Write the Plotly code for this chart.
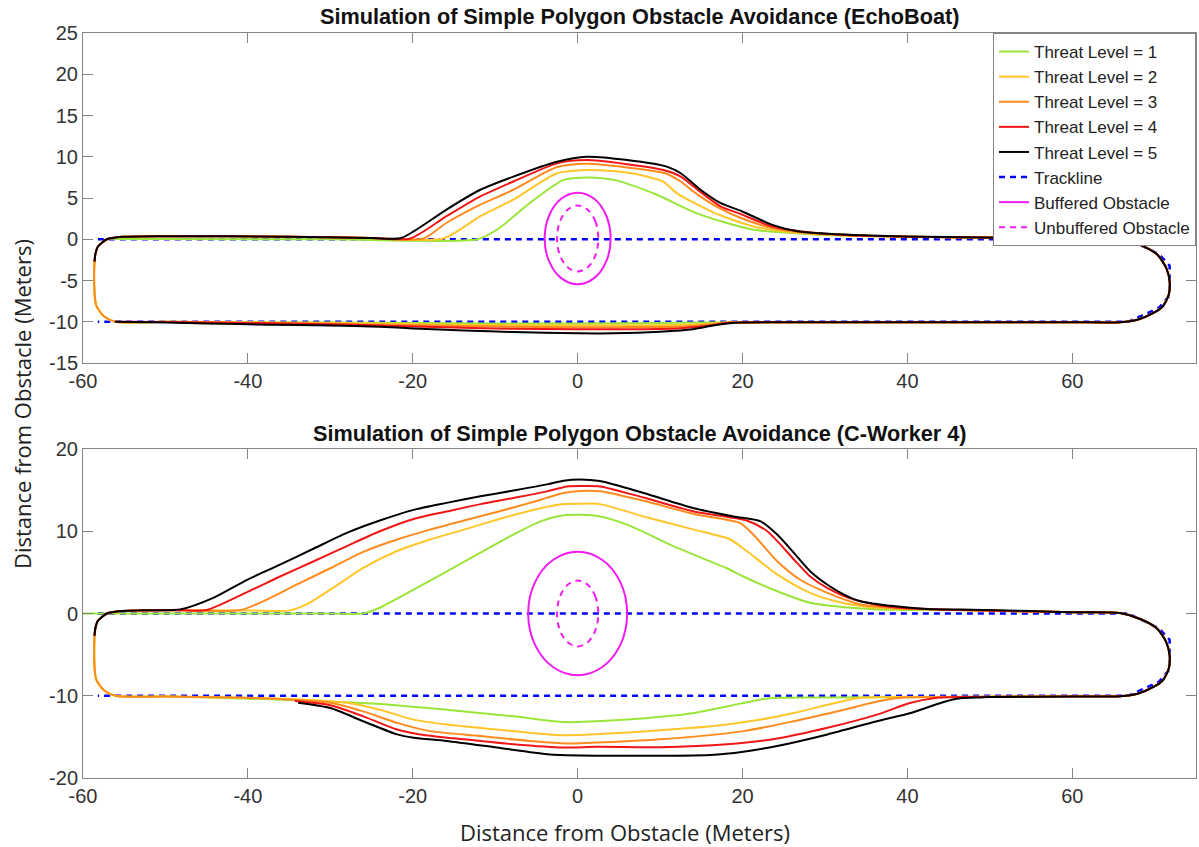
import plotly.graph_objects as go

# ---------------- labels / styles ----------------
LEVEL_NAMES = ["Threat Level = 1", "Threat Level = 2", "Threat Level = 3",
               "Threat Level = 4", "Threat Level = 5"]
LEVEL_COLORS = ["#9be43a", "#ffc62a", "#ff8b1e", "#f01616", "#000000"]
TITLE_TOP = "Simulation of Simple Polygon Obstacle Avoidance (EchoBoat)"
TITLE_BOTTOM = "Simulation of Simple Polygon Obstacle Avoidance (C-Worker 4)"
AXIS_LABEL = "Distance from Obstacle (Meters)"

X_TICKS = [-60, -40, -20, 0, 20, 40, 60]
Y_TICKS_TOP = [-15, -10, -5, 0, 5, 10, 15, 20, 25]
Y_TICKS_BOTTOM = [-20, -10, 0, 10, 20]

# ---------------- trackline ----------------
TRACK_X = [-58.2, 66.8, 70.5, 71.8, 71.8, 70.5, 66.8, -58.2]
TRACK_Y = [0, 0, -1.8, -3.2, -6.8, -8.3, -10, -10]

# ---------------- obstacles (vertices) ----------------
TOP_BUF_X = [4.0, 3.46, 2.0, 0.0, -2.0, -3.46, -4.0, -3.46, -2.0, 0.0, 2.0, 3.46, 4.0]
TOP_BUF_Y = [0.1, 2.88, 4.91, 5.65, 4.91, 2.88, 0.1, -2.68, -4.71, -5.45, -4.71, -2.68, 0.1]
TOP_UNBUF_X = [2.5, 2.17, 1.25, 0.0, -1.25, -2.17, -2.5, -2.17, -1.25, 0.0, 1.25, 2.17, 2.5]
TOP_UNBUF_Y = [0.1, 2.1, 3.56, 4.1, 3.56, 2.1, 0.1, -1.9, -3.36, -3.9, -3.36, -1.9, 0.1]
BOT_BUF_X = [6.0, 5.2, 3.0, 0.0, -3.0, -5.2, -6.0, -5.2, -3.0, 0.0, 3.0, 5.2, 6.0]
BOT_BUF_Y = [0.0, 3.75, 6.5, 7.5, 6.5, 3.75, 0.0, -3.75, -6.5, -7.5, -6.5, -3.75, 0.0]
BOT_UNBUF_X = [2.5, 2.17, 1.25, 0.0, -1.25, -2.17, -2.5, -2.17, -1.25, 0.0, 1.25, 2.17, 2.5]
BOT_UNBUF_Y = [0.0, 2.0, 3.46, 4.0, 3.46, 2.0, 0.0, -2.0, -3.46, -4.0, -3.46, -2.0, 0.0]

# ---------------- shared path pieces ----------------
START_X = [-58.6, -58.5, -58.2, -57.1, -55.2]
START_Y = [-2.7, -1.8, -0.9, 0.0, 0.3]
START_Y_GREEN = [-2.7, -1.8, -0.9, 0.0, 0.02]
BOT_GREEN_START_X = [-60.0, -55.0]
BOT_GREEN_START_Y = [0.0, 0.0]
RIGHT_TURN_X = [65.8, 68.3, 70.3, 71.4, 71.8, 71.7, 71.0, 69.9, 67.9, 65.8]
RIGHT_TURN_Y = [0.05, -0.7, -1.85, -3.5, -5.1, -6.7, -8.1, -8.9, -9.75, -10.05]
LEFT_END_X = [-56.1, -57.5, -58.4, -58.6, -58.6]
LEFT_END_Y = [-10.0, -9.3, -8.0, -6.5, -2.7]

# ---------------- EchoBoat (top) ----------------
TOP_UPPER_X = [
    [-50, -30, -12.2, -9.8, -5.8, -1.7, 1.1, 4.4, 9.6, 14.3, 18.0, 21.3, 25.9, 32, 40, 50, 60],
    [-50, -35, -25, -16.3, -11.8, -7.8, -2.5, 1.1, 5, 8.4, 10.4, 12.0, 16.6, 21.3, 25.9, 32, 40, 50, 60],
    [-50, -35, -25, -18.7, -15.9, -11.8, -7.8, -2.5, 1.1, 6, 10.6, 12.5, 14.3, 17.3, 19.5, 23.6, 28, 33, 40, 50, 60],
    [-50, -35, -25, -20.3, -15.9, -11.8, -7.8, -2.5, 1.1, 6, 10.4, 12.5, 14.8, 17.3, 19.4, 23.6, 28, 33, 40, 50, 60],
    [-50, -35, -25, -21.5, -19.9, -15.9, -11.8, -7.8, -2.5, 1.1, 6, 10.8, 12.5, 14.9, 17.3, 19.9, 23.6, 26.8, 32.9, 39.8, 49.1, 60],
]
TOP_UPPER_Y = [
    [0.02, 0.0, 0.0, 1.15, 4.4, 7.2, 7.5, 7.2, 5.4, 3.2, 2.0, 1.15, 0.75, 0.45, 0.3, 0.2, 0.1],
    [0.38, 0.32, 0.14, 0.1, 2.8, 4.8, 8.0, 8.4, 8.2, 7.6, 7.0, 5.6, 3.2, 1.55, 0.85, 0.5, 0.32, 0.2, 0.1],
    [0.38, 0.32, 0.14, 0.1, 2.0, 4.2, 6.0, 8.75, 9.15, 8.7, 8.0, 7.0, 5.6, 3.7, 2.7, 1.35, 0.75, 0.5, 0.32, 0.2, 0.1],
    [0.38, 0.32, 0.14, 0.1, 2.8, 5.2, 7.0, 9.2, 9.6, 9.1, 8.4, 7.6, 5.8, 4.0, 3.2, 1.55, 0.85, 0.5, 0.32, 0.2, 0.1],
    [0.38, 0.32, 0.15, 0.12, 0.95, 3.6, 6.0, 7.6, 9.4, 10.0, 9.6, 8.8, 8.0, 6.0, 4.4, 3.4, 1.75, 0.95, 0.55, 0.35, 0.2, 0.1],
]
TOP_LOWER_X = [
    [60, 40, 25, 18.5, 15, 10, 0, -10, -20, -30, -40, -50],
    [60, 40, 25, 18.5, 16, 12, 5, 0, -8, -15, -22, -30, -40, -50],
    [60, 40, 25, 18.5, 16, 12, 5, 0, -8, -15, -22, -30, -40, -50],
    [60, 40, 25, 18.5, 16, 12, 5, 0, -8, -15, -22, -30, -40, -50, -56.1],
    [60, 40, 27, 20, 17, 14, 10, 4.4, 0, -7.8, -13.8, -19.9, -24, -30, -37.5, -45, -50, -56.1],
]
TOP_LOWER_Y = [
    [-10.05, -10.05, -10.05, -10.07, -10.1, -10.15, -10.2, -10.2, -10.15, -10.1, -10.05, -10.0],
    [-10.05, -10.05, -10.05, -10.1, -10.25, -10.38, -10.42, -10.42, -10.4, -10.35, -10.25, -10.15, -10.08, -10.0],
    [-10.05, -10.05, -10.05, -10.1, -10.35, -10.6, -10.65, -10.65, -10.6, -10.5, -10.4, -10.25, -10.12, -10.0],
    [-10.05, -10.05, -10.05, -10.1, -10.45, -10.8, -10.9, -10.9, -10.85, -10.7, -10.5, -10.3, -10.15, -10.02, -10.0],
    [-10.05, -10.05, -10.05, -10.1, -10.35, -10.9, -11.2, -11.4, -11.4, -11.25, -11.05, -10.8, -10.6, -10.45, -10.35, -10.2, -10.1, -10.0],
]
TOP_COMPLETE = [True, True, True, False, False]

# ---------------- C-Worker 4 (bottom) ----------------
BOT_UPPER_X = [
    [-50, -40, -30, -26.0, -24, -19.9, -15.9, -11.8, -7.8, -4.5, -1.7, 0.3, 2.7, 6.0, 12.1, 18.1, 20.1, 24.2, 28.2, 32.3, 38.3, 46.4, 55, 60],
    [-52, -48, -40, -34.9, -32.9, -30, -26, -21.9, -17.9, -13.8, -9.8, -5.8, -1.7, 0.3, 2.7, 8.0, 14.1, 18.5, 20.5, 24.2, 28.2, 32.3, 36.3, 46.4, 55, 60],
    [-52, -48, -41, -38.1, -34.1, -30, -26, -21.9, -17.9, -13.8, -9.8, -5.8, -1.7, 0.3, 2.7, 8.0, 14.1, 19.7, 21.3, 24.2, 27.0, 30.3, 34.3, 40, 46.4, 55, 60],
    [-52, -48, -45, -40.1, -36.1, -32, -28, -24, -19.9, -15.9, -11.8, -7.8, -3.7, -1.3, 0.6, 2.7, 8.0, 14.1, 20.5, 23, 26.2, 28.2, 30.3, 33.5, 38.3, 46.4, 55, 60],
    [-52, -48.2, -44.2, -40.1, -36.1, -32, -28, -24, -19.9, -15.9, -11.8, -7.8, -3.7, -1.7, 0.3, 2.7, 8.0, 14.1, 18.9, 22.2, 24.2, 26.2, 28.2, 30.3, 32.3, 34.3, 38.3, 42.4, 46.4, 55, 60],
]
BOT_UPPER_Y = [
    [0, 0, 0, 0.0, 0.7, 2.9, 5.1, 7.4, 9.6, 11.2, 11.95, 12.0, 11.8, 10.8, 7.97, 5.5, 4.5, 2.7, 1.3, 0.77, 0.45, 0.4, 0.25, 0.15],
    [0.38, 0.4, 0.38, 0.38, 1.1, 2.9, 5.55, 7.6, 9.0, 10.2, 11.4, 12.5, 13.3, 13.35, 13.3, 11.8, 10.2, 9.0, 7.6, 4.75, 2.5, 1.25, 0.7, 0.42, 0.25, 0.15],
    [0.38, 0.4, 0.4, 1.5, 3.5, 5.5, 7.5, 9.0, 10.2, 11.3, 12.35, 13.45, 14.65, 14.9, 14.85, 13.7, 12.1, 11.0, 9.6, 6.35, 4.1, 2.5, 1.1, 0.6, 0.42, 0.25, 0.15],
    [0.38, 0.4, 0.42, 2.6, 4.5, 6.35, 8.2, 10.0, 11.5, 12.4, 13.3, 14.05, 14.85, 15.45, 15.5, 15.45, 14.1, 12.4, 11.3, 10.0, 6.6, 4.5, 3.1, 1.7, 0.75, 0.42, 0.25, 0.15],
    [0.4, 0.5, 1.9, 4.1, 5.95, 7.9, 9.8, 11.3, 12.6, 13.45, 14.25, 14.95, 15.7, 16.15, 16.3, 16.1, 14.65, 12.8, 11.8, 11.2, 9.6, 7.4, 5.15, 3.5, 2.3, 1.5, 0.9, 0.56, 0.48, 0.3, 0.15],
]
BOT_LOWER_X = [
    [60, 40, 30, 24.2, 22.2, 18.1, 14.1, 6.0, -0.1, -1.7, -7.8, -15.9, -24, -32, -40, -50],
    [60, 40, 34.3, 33.1, 30.3, 26.2, 22.2, 18.1, 10, -1.7, -7.8, -15.9, -19.9, -24, -28, -35, -42, -50],
    [60, 45, 39.2, 36.3, 32.3, 26.2, 20.1, 10, -1.3, -5.8, -11.8, -17.9, -21.9, -26, -30, -36, -42, -50],
    [60, 46, 43.2, 40.4, 36.3, 30.3, 24.2, 18.1, 10, 2.3, -1.7, -7.8, -13.8, -19.1, -21.9, -26, -30, -34.3],
    [60, 50, 48.9, 46.4, 44.4, 40.4, 36.3, 30.3, 24.2, 20.1, 16.1, 6.0, -2.1, -3.7, -9.8, -15.9, -19.9, -21.9, -26, -30, -33.9],
]
BOT_LOWER_Y = [
    [-10.1, -10.15, -10.2, -10.25, -10.45, -11.3, -12.1, -12.9, -13.2, -13.2, -12.5, -11.7, -11.0, -10.65, -10.35, -10.1],
    [-10.1, -10.15, -10.25, -10.45, -11.1, -12.1, -12.9, -13.5, -14.2, -14.8, -14.3, -13.5, -12.9, -11.7, -10.85, -10.4, -10.2, -10.1],
    [-10.1, -10.15, -10.25, -10.7, -11.7, -13.1, -14.3, -15.3, -15.8, -15.5, -14.9, -14.3, -13.3, -11.9, -10.85, -10.4, -10.2, -10.1],
    [-10.1, -10.15, -10.3, -10.85, -12.3, -13.9, -15.2, -15.9, -16.25, -16.2, -16.3, -15.9, -15.3, -14.7, -14.1, -12.5, -11.15, -10.65],
    [-10.1, -10.15, -10.2, -10.3, -10.75, -12.1, -13.1, -14.7, -16.1, -16.8, -17.2, -17.3, -17.2, -17.1, -16.3, -15.5, -15.1, -14.7, -13.1, -11.5, -10.85],
]
BOT_COMPLETE = [True, True, True, False, False]

# ---------------- figure ----------------
FONT_TICK = dict(family="Liberation Sans, Arial, sans-serif", size=20, color="#333333")
FONT_LABEL = dict(family="Open Sans, Noto Sans, sans-serif", size=22, color="#222222")
FONT_TITLE = dict(family="Liberation Sans, Arial, sans-serif", size=21.7, color="#111111")
FRAME = "#858585"

fig = go.Figure()


def add_static(xa, ya, buf_x, buf_y, unbuf_x, unbuf_y, legend):
    fig.add_trace(go.Scatter(x=TRACK_X, y=TRACK_Y, mode="lines", name="Trackline",
                             line=dict(color="#0000ff", width=2.5, dash="6px,5px"),
                             xaxis=xa, yaxis=ya, showlegend=legend, legendrank=6,
                             hoverinfo="skip"))
    fig.add_trace(go.Scatter(x=buf_x, y=buf_y, mode="lines", name="Buffered Obstacle",
                             line=dict(color="#f21cf2", width=2, shape="spline"),
                             xaxis=xa, yaxis=ya, showlegend=legend, legendrank=7,
                             hoverinfo="skip"))
    fig.add_trace(go.Scatter(x=unbuf_x, y=unbuf_y, mode="lines", name="Unbuffered Obstacle",
                             line=dict(color="#f21cf2", width=2, dash="6px,5px", shape="spline"),
                             xaxis=xa, yaxis=ya, showlegend=legend, legendrank=8,
                             hoverinfo="skip"))


def add_paths(xa, ya, upx, upy, lowx, lowy, complete, legend, green_start):
    for i in range(5):
        if i == 0:
            sx, sy = green_start
        else:
            sx, sy = START_X, START_Y
        xs = list(sx) + upx[i] + RIGHT_TURN_X + lowx[i]
        ys = list(sy) + upy[i] + RIGHT_TURN_Y + lowy[i]
        if complete[i]:
            xs += LEFT_END_X
            ys += LEFT_END_Y
        fig.add_trace(go.Scatter(x=xs, y=ys, mode="lines", name=LEVEL_NAMES[i],
                                 line=dict(color=LEVEL_COLORS[i], width=2,
                                           shape="spline", smoothing=0.7),
                                 xaxis=xa, yaxis=ya, showlegend=legend,
                                 legendrank=i + 1, hoverinfo="skip"))


add_static("x", "y", TOP_BUF_X, TOP_BUF_Y, TOP_UNBUF_X, TOP_UNBUF_Y, True)
add_paths("x", "y", TOP_UPPER_X, TOP_UPPER_Y, TOP_LOWER_X, TOP_LOWER_Y, TOP_COMPLETE,
          True, (START_X, START_Y_GREEN))
add_static("x2", "y2", BOT_BUF_X, BOT_BUF_Y, BOT_UNBUF_X, BOT_UNBUF_Y, False)
add_paths("x2", "y2", BOT_UPPER_X, BOT_UPPER_Y, BOT_LOWER_X, BOT_LOWER_Y, BOT_COMPLETE,
          False, (BOT_GREEN_START_X, BOT_GREEN_START_Y))

axis_common = dict(showline=True, linecolor=FRAME, linewidth=1, mirror="ticks",
                   ticks="inside", ticklen=10, tickcolor=FRAME, tickwidth=1,
                   showgrid=False, zeroline=False, tickfont=FONT_TICK)


def labels(vals):
    return [str(v) for v in vals]


fig.update_layout(
    width=1199, height=847,
    margin=dict(l=83, r=3, t=33, b=69),
    paper_bgcolor="white", plot_bgcolor="white",
    xaxis=dict(domain=[0, 1], range=[-60, 75], tickvals=X_TICKS, ticktext=labels(X_TICKS),
               anchor="y", **axis_common),
    yaxis=dict(domain=[0.557, 1], range=[-15, 25], tickvals=Y_TICKS_TOP,
               ticktext=labels(Y_TICKS_TOP), anchor="x", **axis_common),
    xaxis2=dict(domain=[0, 1], range=[-60, 75], tickvals=X_TICKS, ticktext=labels(X_TICKS),
                anchor="y2", **axis_common),
    yaxis2=dict(domain=[0, 0.4416], range=[-20, 20], tickvals=Y_TICKS_BOTTOM,
                ticktext=labels(Y_TICKS_BOTTOM), anchor="x2", **axis_common),
    legend=dict(x=1, y=1, xanchor="right", yanchor="top", xref="paper", yref="paper",
                bgcolor="white", bordercolor=FRAME, borderwidth=1,
                font=dict(family="Liberation Sans, Arial, sans-serif", size=17, color="#222222"),
                tracegroupgap=0, itemwidth=30),
    showlegend=True,
    annotations=[
        dict(text="<b>" + TITLE_TOP + "</b>", x=0.5, y=1.0215, xref="paper", yref="paper",
             xanchor="center", yanchor="middle", showarrow=False, font=FONT_TITLE),
        dict(text="<b>" + TITLE_BOTTOM + "</b>", x=0.5, y=0.463, xref="paper", yref="paper",
             xanchor="center", yanchor="middle", showarrow=False, font=FONT_TITLE),
        dict(text=AXIS_LABEL, x=0.4866, y=-0.073, xref="paper", yref="paper",
             xanchor="center", yanchor="middle", showarrow=False, font=FONT_LABEL),
        dict(text=AXIS_LABEL, x=-0.0548, y=0.502, xref="paper", yref="paper",
             xanchor="center", yanchor="middle", showarrow=False, textangle=-90,
             font=FONT_LABEL),
    ],
)

fig.write_html("out.html")
